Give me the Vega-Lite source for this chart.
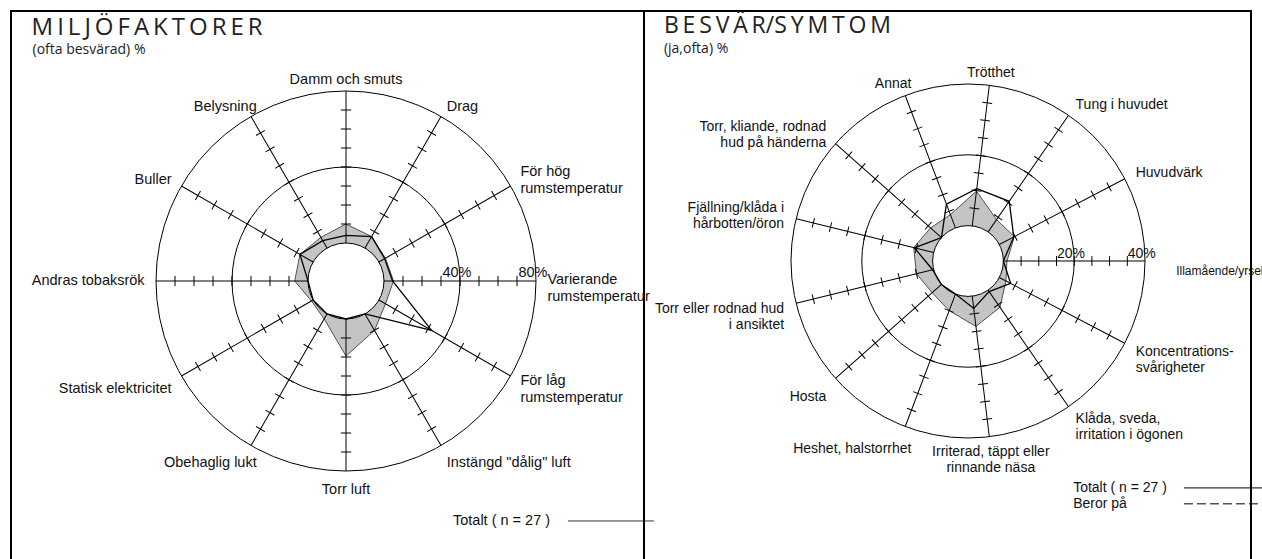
{
  "$schema": "https://vega.github.io/schema/vega-lite/v6.json",
  "background": "white",
  "padding": {"left": 10, "top": 10, "right": 0, "bottom": 0},
  "spacing": 0,
  "bounds": "flush",
  "config": {"view": {"stroke": "black", "strokeWidth": 2}, "text": {"font": "Liberation Sans", "color": "#111"}},
  "datasets": {
    "L": [
      {"cat": "Damm och smuts", "ref": 10, "tot": 4},
      {"cat": "Drag", "ref": 7, "tot": 7},
      {"cat": "För hög\nrumstemperatur", "ref": 4, "tot": 3.5},
      {"cat": "Varierande\nrumstemperatur", "ref": 5, "tot": 4.5},
      {"cat": "För låg\nrumstemperatur", "ref": 4, "tot": 32},
      {"cat": "Instängd \"dålig\" luft", "ref": 10, "tot": 0},
      {"cat": "Torr luft", "ref": 19.5, "tot": 0},
      {"cat": "Obehaglig lukt", "ref": 3, "tot": 0},
      {"cat": "Statisk elektricitet", "ref": 1, "tot": 0},
      {"cat": "Andras tobaksrök", "ref": 7, "tot": 0},
      {"cat": "Buller", "ref": 8, "tot": 8},
      {"cat": "Belysning", "ref": 6.5, "tot": 4.5}
    ],
    "R": [
      {"cat": "Trötthet", "ref": 9.9, "tot": 10.6},
      {"cat": "Tung i huvudet", "ref": 4.2, "tot": 10.5},
      {"cat": "Huvudvärk", "ref": 4.8, "tot": 4.6},
      {"cat": "Illamående/yrsel", "ref": 1, "tot": 0},
      {"cat": "Koncentrations-\nsvårigheter", "ref": 2.1, "tot": 3.6},
      {"cat": "Klåda, sveda,\nirritation i ögonen", "ref": 5.9, "tot": 0.5},
      {"cat": "Irriterad, täppt eller\nrinnande näsa", "ref": 8.6, "tot": 3.5},
      {"cat": "Heshet, halstorrhet", "ref": 5, "tot": 0},
      {"cat": "Hosta", "ref": 3.5, "tot": 0},
      {"cat": "Torr eller rodnad hud\ni ansiktet", "ref": 5, "tot": 0.3},
      {"cat": "Fjällning/klåda i\nhårbotten/öron", "ref": 5.8, "tot": 5.6},
      {"cat": "Torr, kliande, rodnad\nhud på händerna", "ref": 4.1, "tot": 0},
      {"cat": "Annat", "ref": 4, "tot": 7.2}
    ],
    "one": [{"k": 1}],
    "pctL": [{"p": "40%", "v": 40}, {"p": "80%", "v": 80}],
    "pctR": [{"p": "20%", "v": 20}, {"p": "40%", "v": 40}],
    "legTot": [{"t": "Totalt ( n = 27 )"}],
    "legBer": [{"t": "Beror på"}],
    "titleL": [{"t": "M\u2006I\u2006L\u2006J\u2006Ö\u2006F\u2006A\u2006K\u2006T\u2006O\u2006R\u2006E\u2006R", "s": "(ofta besvärad) %"}],
    "titleR": [{"t": "B\u2006E\u2006S\u2006V\u2006Ä\u2006R/S\u2006Y\u2006M\u2006T\u2006O\u2006M", "s": "(ja,ofta) %"}]
  },
  "hconcat": [
    {
      "width": 633,
      "height": 560,
      "layer": [
        {
          "data": {"name": "L"},
          "transform": [
            {"window": [{"op": "row_number", "as": "rn"}]},
            {"calculate": "(datum.rn - 1) * PI / 6", "as": "phi"},
            {"calculate": "(20 + datum.ref) * sin(datum.phi)", "as": "x"},
            {"calculate": "(20 + datum.ref) * cos(datum.phi)", "as": "y"}
          ],
          "mark": {"type": "line", "interpolate": "linear-closed", "fill": "#c4c4c4", "stroke": "#505050", "strokeWidth": 1},
          "encoding": {
            "x": {"field": "x", "type": "quantitative", "scale": {"domain": [-176.32, 156.84], "nice": false, "zero": false}, "axis": null},
            "y": {"field": "y", "type": "quantitative", "scale": {"domain": [-152.63, 142.105], "nice": false, "zero": false}, "axis": null},
            "order": {"field": "rn", "type": "quantitative"}
          }
        },
        {
          "data": {"name": "one"},
          "mark": {"type": "point", "shape": "circle", "size": 5776, "filled": true, "fill": "white", "stroke": "black", "strokeWidth": 1, "opacity": 1},
          "encoding": {
            "x": {"datum": 0, "type": "quantitative", "scale": {"domain": [-176.32, 156.84], "nice": false, "zero": false}, "axis": null},
            "y": {"datum": 0, "type": "quantitative", "scale": {"domain": [-152.63, 142.105], "nice": false, "zero": false}, "axis": null}
          }
        },
        {
          "data": {"name": "L"},
          "transform": [
            {"window": [{"op": "row_number", "as": "rn"}]},
            {"calculate": "(datum.rn - 1) * 30", "as": "deg"}
          ],
          "mark": {"type": "point", "shape": "M0,-0.2L0,-1M-0.027,-0.3L0.027,-0.3M-0.027,-0.4L0.027,-0.4M-0.027,-0.5L0.027,-0.5M-0.027,-0.6L0.027,-0.6M-0.027,-0.7L0.027,-0.7M-0.027,-0.8L0.027,-0.8M-0.027,-0.9L0.027,-0.9", "size": 144400, "filled": false, "stroke": "black", "strokeWidth": 1, "opacity": 1},
          "encoding": {
            "x": {"datum": 0, "type": "quantitative", "scale": {"domain": [-176.32, 156.84], "nice": false, "zero": false}, "axis": null},
            "y": {"datum": 0, "type": "quantitative", "scale": {"domain": [-152.63, 142.105], "nice": false, "zero": false}, "axis": null},
            "angle": {"field": "deg", "type": "quantitative", "scale": null}
          }
        },
        {
          "data": {"name": "one"},
          "mark": {"type": "point", "shape": "circle", "size": 51984, "filled": false, "stroke": "black", "strokeWidth": 1, "opacity": 1},
          "encoding": {
            "x": {"datum": 0, "type": "quantitative", "scale": {"domain": [-176.32, 156.84], "nice": false, "zero": false}, "axis": null},
            "y": {"datum": 0, "type": "quantitative", "scale": {"domain": [-152.63, 142.105], "nice": false, "zero": false}, "axis": null}
          }
        },
        {
          "data": {"name": "one"},
          "mark": {"type": "point", "shape": "circle", "size": 144400, "filled": false, "stroke": "black", "strokeWidth": 1, "opacity": 1},
          "encoding": {
            "x": {"datum": 0, "type": "quantitative", "scale": {"domain": [-176.32, 156.84], "nice": false, "zero": false}, "axis": null},
            "y": {"datum": 0, "type": "quantitative", "scale": {"domain": [-152.63, 142.105], "nice": false, "zero": false}, "axis": null}
          }
        },
        {
          "data": {"name": "L"},
          "transform": [
            {"window": [{"op": "row_number", "as": "rn"}]},
            {"calculate": "(datum.rn - 1) * PI / 6", "as": "phi"},
            {"calculate": "(20 + datum.tot) * sin(datum.phi)", "as": "x"},
            {"calculate": "(20 + datum.tot) * cos(datum.phi)", "as": "y"}
          ],
          "mark": {"type": "line", "interpolate": "linear-closed", "stroke": "black", "strokeWidth": 1.3},
          "encoding": {
            "x": {"field": "x", "type": "quantitative", "scale": {"domain": [-176.32, 156.84], "nice": false, "zero": false}, "axis": null},
            "y": {"field": "y", "type": "quantitative", "scale": {"domain": [-152.63, 142.105], "nice": false, "zero": false}, "axis": null},
            "order": {"field": "rn", "type": "quantitative"}
          }
        },
        {
          "data": {"name": "L"},
          "transform": [
            {"window": [{"op": "row_number", "as": "rn"}]},
            {"calculate": "(datum.rn - 1) * PI / 6", "as": "phi"},
            {"calculate": "106 * sin(datum.phi)", "as": "x"},
            {"calculate": "106 * cos(datum.phi) - ((cos(datum.phi) < -0.1 || (abs(cos(datum.phi)) < 0.1 && sin(datum.phi) > 0)) ? 4 : 0) + 4.34 * (length(split(datum.cat, '\\n')) - 1)", "as": "y"},
            {"filter": "sin(datum.phi) > 0.1"}
          ],
          "mark": {"type": "text", "align": "left", "baseline": "middle", "fontSize": 14.5, "lineBreak": "\n", "lineHeight": 16.5},
          "encoding": {
            "x": {"field": "x", "type": "quantitative", "scale": {"domain": [-176.32, 156.84], "nice": false, "zero": false}, "axis": null},
            "y": {"field": "y", "type": "quantitative", "scale": {"domain": [-152.63, 142.105], "nice": false, "zero": false}, "axis": null},
            "text": {"field": "cat"}
          }
        },
        {
          "data": {"name": "L"},
          "transform": [
            {"window": [{"op": "row_number", "as": "rn"}]},
            {"calculate": "(datum.rn - 1) * PI / 6", "as": "phi"},
            {"calculate": "106 * sin(datum.phi) + (abs(cos(datum.phi)) > 0.8 ? 6 : 0)", "as": "x"},
            {"calculate": "106 * cos(datum.phi) - ((cos(datum.phi) < -0.1) ? 4 : 0)", "as": "y"},
            {"filter": "sin(datum.phi) < -0.1"}
          ],
          "mark": {"type": "text", "align": "right", "baseline": "middle", "fontSize": 14.5, "lineBreak": "\n", "lineHeight": 16.5},
          "encoding": {
            "x": {"field": "x", "type": "quantitative", "scale": {"domain": [-176.32, 156.84], "nice": false, "zero": false}, "axis": null},
            "y": {"field": "y", "type": "quantitative", "scale": {"domain": [-152.63, 142.105], "nice": false, "zero": false}, "axis": null},
            "text": {"field": "cat"}
          }
        },
        {
          "data": {"name": "L"},
          "transform": [
            {"window": [{"op": "row_number", "as": "rn"}]},
            {"calculate": "(datum.rn - 1) * PI / 6", "as": "phi"},
            {"calculate": "106 * sin(datum.phi)", "as": "x"},
            {"calculate": "106 * cos(datum.phi) - ((cos(datum.phi) < -0.1) ? 4 : 0)", "as": "y"},
            {"filter": "abs(sin(datum.phi)) <= 0.1"}
          ],
          "mark": {"type": "text", "align": "center", "baseline": "middle", "fontSize": 14.5, "lineBreak": "\n", "lineHeight": 16.5},
          "encoding": {
            "x": {"field": "x", "type": "quantitative", "scale": {"domain": [-176.32, 156.84], "nice": false, "zero": false}, "axis": null},
            "y": {"field": "y", "type": "quantitative", "scale": {"domain": [-152.63, 142.105], "nice": false, "zero": false}, "axis": null},
            "text": {"field": "cat"}
          }
        },
        {
          "data": {"name": "pctL"},
          "transform": [{"calculate": "20 + datum.v - 1.6", "as": "x"}],
          "mark": {"type": "text", "align": "center", "baseline": "alphabetic", "fontSize": 14.5},
          "encoding": {
            "x": {"field": "x", "type": "quantitative", "scale": {"domain": [-176.32, 156.84], "nice": false, "zero": false}, "axis": null},
            "y": {"datum": 2.1, "type": "quantitative", "scale": {"domain": [-152.63, 142.105], "nice": false, "zero": false}, "axis": null},
            "text": {"field": "p"}
          }
        },
        {
          "data": {"name": "legTot"},
          "mark": {"type": "text", "align": "left", "baseline": "middle", "fontSize": 14.5},
          "encoding": {
            "x": {"datum": 56.3, "type": "quantitative", "scale": {"domain": [-176.32, 156.84], "nice": false, "zero": false}, "axis": null},
            "y": {"datum": -126.3, "type": "quantitative", "scale": {"domain": [-152.63, 142.105], "nice": false, "zero": false}, "axis": null},
            "text": {"field": "t"}
          }
        },
        {
          "data": {"name": "one"},
          "mark": {"type": "rule", "stroke": "#333", "strokeWidth": 1},
          "encoding": {
            "x": {"datum": 116.8, "type": "quantitative", "scale": {"domain": [-176.32, 156.84], "nice": false, "zero": false}, "axis": null},
            "x2": {"datum": 162.1},
            "y": {"datum": -126.3, "type": "quantitative", "scale": {"domain": [-152.63, 142.105], "nice": false, "zero": false}, "axis": null}
          }
        },
        {
          "data": {"name": "titleL"},
          "mark": {"type": "text", "align": "left", "baseline": "alphabetic", "fontSize": 24, "font": "Open Sans", "color": "#222"},
          "encoding": {
            "x": {"datum": -165.5, "type": "quantitative", "scale": {"domain": [-176.32, 156.84], "nice": false, "zero": false}, "axis": null},
            "y": {"datum": 129.5, "type": "quantitative", "scale": {"domain": [-152.63, 142.105], "nice": false, "zero": false}, "axis": null},
            "text": {"field": "t"}
          }
        },
        {
          "data": {"name": "titleL"},
          "mark": {"type": "text", "align": "left", "baseline": "alphabetic", "fontSize": 14, "font": "Open Sans", "color": "#222"},
          "encoding": {
            "x": {"datum": -165, "type": "quantitative", "scale": {"domain": [-176.32, 156.84], "nice": false, "zero": false}, "axis": null},
            "y": {"datum": 119.4, "type": "quantitative", "scale": {"domain": [-152.63, 142.105], "nice": false, "zero": false}, "axis": null},
            "text": {"field": "s"}
          }
        }
      ]
    },
    {
      "width": 607,
      "height": 560,
      "layer": [
        {
          "data": {"name": "R"},
          "transform": [
            {"window": [{"op": "row_number", "as": "rn"}]},
            {"calculate": "(datum.rn - 0.75) * 2 * PI / 13", "as": "phi"},
            {"calculate": "(10 + datum.ref) * sin(datum.phi)", "as": "x"},
            {"calculate": "(10 + datum.ref) * cos(datum.phi)", "as": "y"}
          ],
          "mark": {"type": "line", "interpolate": "linear-closed", "fill": "#c4c4c4", "stroke": "#505050", "strokeWidth": 1},
          "encoding": {
            "x": {"field": "x", "type": "quantitative", "scale": {"domain": [-91.525, 79.944], "nice": false, "zero": false}, "axis": null},
            "y": {"field": "y", "type": "quantitative", "scale": {"domain": [-87.571, 70.621], "nice": false, "zero": false}, "axis": null},
            "order": {"field": "rn", "type": "quantitative"}
          }
        },
        {
          "data": {"name": "one"},
          "mark": {"type": "point", "shape": "circle", "size": 5013, "filled": true, "fill": "white", "stroke": "black", "strokeWidth": 1, "opacity": 1},
          "encoding": {
            "x": {"datum": 0, "type": "quantitative", "scale": {"domain": [-91.525, 79.944], "nice": false, "zero": false}, "axis": null},
            "y": {"datum": 0, "type": "quantitative", "scale": {"domain": [-87.571, 70.621], "nice": false, "zero": false}, "axis": null}
          }
        },
        {
          "data": {"name": "R"},
          "transform": [
            {"window": [{"op": "row_number", "as": "rn"}]},
            {"calculate": "(datum.rn - 0.75) * 360 / 13", "as": "deg"}
          ],
          "mark": {"type": "point", "shape": "M0,-0.2L0,-1M-0.028,-0.3L0.028,-0.3M-0.028,-0.4L0.028,-0.4M-0.028,-0.5L0.028,-0.5M-0.028,-0.6L0.028,-0.6M-0.028,-0.7L0.028,-0.7M-0.028,-0.8L0.028,-0.8M-0.028,-0.9L0.028,-0.9", "size": 125316, "filled": false, "stroke": "black", "strokeWidth": 1, "opacity": 1},
          "encoding": {
            "x": {"datum": 0, "type": "quantitative", "scale": {"domain": [-91.525, 79.944], "nice": false, "zero": false}, "axis": null},
            "y": {"datum": 0, "type": "quantitative", "scale": {"domain": [-87.571, 70.621], "nice": false, "zero": false}, "axis": null},
            "angle": {"field": "deg", "type": "quantitative", "scale": null}
          }
        },
        {
          "data": {"name": "one"},
          "mark": {"type": "point", "shape": "circle", "size": 45114, "filled": false, "stroke": "black", "strokeWidth": 1, "opacity": 1},
          "encoding": {
            "x": {"datum": 0, "type": "quantitative", "scale": {"domain": [-91.525, 79.944], "nice": false, "zero": false}, "axis": null},
            "y": {"datum": 0, "type": "quantitative", "scale": {"domain": [-87.571, 70.621], "nice": false, "zero": false}, "axis": null}
          }
        },
        {
          "data": {"name": "one"},
          "mark": {"type": "point", "shape": "circle", "size": 125316, "filled": false, "stroke": "black", "strokeWidth": 1, "opacity": 1},
          "encoding": {
            "x": {"datum": 0, "type": "quantitative", "scale": {"domain": [-91.525, 79.944], "nice": false, "zero": false}, "axis": null},
            "y": {"datum": 0, "type": "quantitative", "scale": {"domain": [-87.571, 70.621], "nice": false, "zero": false}, "axis": null}
          }
        },
        {
          "data": {"name": "R"},
          "transform": [
            {"window": [{"op": "row_number", "as": "rn"}]},
            {"calculate": "(datum.rn - 0.75) * 2 * PI / 13", "as": "phi"},
            {"calculate": "(10 + datum.tot) * sin(datum.phi)", "as": "x"},
            {"calculate": "(10 + datum.tot) * cos(datum.phi)", "as": "y"}
          ],
          "mark": {"type": "line", "interpolate": "linear-closed", "stroke": "black", "strokeWidth": 1.3},
          "encoding": {
            "x": {"field": "x", "type": "quantitative", "scale": {"domain": [-91.525, 79.944], "nice": false, "zero": false}, "axis": null},
            "y": {"field": "y", "type": "quantitative", "scale": {"domain": [-87.571, 70.621], "nice": false, "zero": false}, "axis": null},
            "order": {"field": "rn", "type": "quantitative"}
          }
        },
        {
          "data": {"name": "R"},
          "transform": [
            {"window": [{"op": "row_number", "as": "rn"}]},
            {"calculate": "(datum.rn - 0.75) * 2 * PI / 13", "as": "phi"},
            {"calculate": "53.5 * sin(datum.phi)", "as": "x"},
            {"calculate": "53.5 * cos(datum.phi) - ((cos(datum.phi) < -0.1) ? 3 : 0) + 2.26 * (length(split(datum.cat, '\\n')) - 1)", "as": "y"},
            {"filter": "sin(datum.phi) > 0.2 && datum.cat !== 'Illamående/yrsel'"}
          ],
          "mark": {"type": "text", "align": "left", "baseline": "middle", "fontSize": 14, "lineBreak": "\n", "lineHeight": 16},
          "encoding": {
            "x": {"field": "x", "type": "quantitative", "scale": {"domain": [-91.525, 79.944], "nice": false, "zero": false}, "axis": null},
            "y": {"field": "y", "type": "quantitative", "scale": {"domain": [-87.571, 70.621], "nice": false, "zero": false}, "axis": null},
            "text": {"field": "cat"}
          }
        },
        {
          "data": {"name": "R"},
          "transform": [
            {"window": [{"op": "row_number", "as": "rn"}]},
            {"calculate": "(datum.rn - 0.75) * 2 * PI / 13", "as": "phi"},
            {"calculate": "53.5 * sin(datum.phi) + (abs(cos(datum.phi)) > 0.9 ? 3 : 0)", "as": "x"},
            {"calculate": "53.5 * cos(datum.phi) - ((cos(datum.phi) < -0.1) ? 3 : 0) + 2.26 * (length(split(datum.cat, '\\n')) - 1)", "as": "y"},
            {"filter": "sin(datum.phi) < -0.2"}
          ],
          "mark": {"type": "text", "align": "right", "baseline": "middle", "fontSize": 14, "lineBreak": "\n", "lineHeight": 16},
          "encoding": {
            "x": {"field": "x", "type": "quantitative", "scale": {"domain": [-91.525, 79.944], "nice": false, "zero": false}, "axis": null},
            "y": {"field": "y", "type": "quantitative", "scale": {"domain": [-87.571, 70.621], "nice": false, "zero": false}, "axis": null},
            "text": {"field": "cat"}
          }
        },
        {
          "data": {"name": "R"},
          "transform": [
            {"window": [{"op": "row_number", "as": "rn"}]},
            {"calculate": "(datum.rn - 0.75) * 2 * PI / 13", "as": "phi"},
            {"calculate": "53.5 * sin(datum.phi)", "as": "x"},
            {"calculate": "53.5 * cos(datum.phi) - ((cos(datum.phi) < -0.1) ? 3 : 0) + 2.26 * (length(split(datum.cat, '\\n')) - 1)", "as": "y"},
            {"filter": "abs(sin(datum.phi)) <= 0.2"}
          ],
          "mark": {"type": "text", "align": "center", "baseline": "middle", "fontSize": 14, "lineBreak": "\n", "lineHeight": 16},
          "encoding": {
            "x": {"field": "x", "type": "quantitative", "scale": {"domain": [-91.525, 79.944], "nice": false, "zero": false}, "axis": null},
            "y": {"field": "y", "type": "quantitative", "scale": {"domain": [-87.571, 70.621], "nice": false, "zero": false}, "axis": null},
            "text": {"field": "cat"}
          }
        },
        {
          "data": {"name": "R"},
          "transform": [
            {"window": [{"op": "row_number", "as": "rn"}]},
            {"calculate": "(datum.rn - 0.75) * 2 * PI / 13", "as": "phi"},
            {"calculate": "58.8 * sin(datum.phi)", "as": "x"},
            {"calculate": "58.8 * cos(datum.phi) - 2.8", "as": "y"},
            {"filter": "datum.cat === 'Illamående/yrsel'"}
          ],
          "mark": {"type": "text", "align": "left", "baseline": "middle", "fontSize": 12},
          "encoding": {
            "x": {"field": "x", "type": "quantitative", "scale": {"domain": [-91.525, 79.944], "nice": false, "zero": false}, "axis": null},
            "y": {"field": "y", "type": "quantitative", "scale": {"domain": [-87.571, 70.621], "nice": false, "zero": false}, "axis": null},
            "text": {"field": "cat"}
          }
        },
        {
          "data": {"name": "pctR"},
          "transform": [{"calculate": "10 + datum.v - 0.9", "as": "x"}],
          "mark": {"type": "text", "align": "center", "baseline": "alphabetic", "fontSize": 14},
          "encoding": {
            "x": {"field": "x", "type": "quantitative", "scale": {"domain": [-91.525, 79.944], "nice": false, "zero": false}, "axis": null},
            "y": {"datum": 0.9, "type": "quantitative", "scale": {"domain": [-87.571, 70.621], "nice": false, "zero": false}, "axis": null},
            "text": {"field": "p"}
          }
        },
        {
          "data": {"name": "legTot"},
          "mark": {"type": "text", "align": "left", "baseline": "middle", "fontSize": 14},
          "encoding": {
            "x": {"datum": 29.7, "type": "quantitative", "scale": {"domain": [-91.525, 79.944], "nice": false, "zero": false}, "axis": null},
            "y": {"datum": -64.1, "type": "quantitative", "scale": {"domain": [-87.571, 70.621], "nice": false, "zero": false}, "axis": null},
            "text": {"field": "t"}
          }
        },
        {
          "data": {"name": "legBer"},
          "mark": {"type": "text", "align": "left", "baseline": "middle", "fontSize": 14},
          "encoding": {
            "x": {"datum": 29.7, "type": "quantitative", "scale": {"domain": [-91.525, 79.944], "nice": false, "zero": false}, "axis": null},
            "y": {"datum": -68.6, "type": "quantitative", "scale": {"domain": [-87.571, 70.621], "nice": false, "zero": false}, "axis": null},
            "text": {"field": "t"}
          }
        },
        {
          "data": {"name": "one"},
          "mark": {"type": "rule", "stroke": "black", "strokeWidth": 1},
          "encoding": {
            "x": {"datum": 61, "type": "quantitative", "scale": {"domain": [-91.525, 79.944], "nice": false, "zero": false}, "axis": null},
            "x2": {"datum": 83.3},
            "y": {"datum": -64.1, "type": "quantitative", "scale": {"domain": [-87.571, 70.621], "nice": false, "zero": false}, "axis": null}
          }
        },
        {
          "data": {"name": "one"},
          "mark": {"type": "rule", "stroke": "black", "strokeWidth": 1, "strokeDash": [9, 4]},
          "encoding": {
            "x": {"datum": 61, "type": "quantitative", "scale": {"domain": [-91.525, 79.944], "nice": false, "zero": false}, "axis": null},
            "x2": {"datum": 83.3},
            "y": {"datum": -68.6, "type": "quantitative", "scale": {"domain": [-87.571, 70.621], "nice": false, "zero": false}, "axis": null}
          }
        },
        {
          "data": {"name": "titleR"},
          "mark": {"type": "text", "align": "left", "baseline": "alphabetic", "fontSize": 23, "font": "Open Sans", "color": "#222"},
          "encoding": {
            "x": {"datum": -85.9, "type": "quantitative", "scale": {"domain": [-91.525, 79.944], "nice": false, "zero": false}, "axis": null},
            "y": {"datum": 64.5, "type": "quantitative", "scale": {"domain": [-87.571, 70.621], "nice": false, "zero": false}, "axis": null},
            "text": {"field": "t"}
          }
        },
        {
          "data": {"name": "titleR"},
          "mark": {"type": "text", "align": "left", "baseline": "alphabetic", "fontSize": 14, "font": "Open Sans", "color": "#222"},
          "encoding": {
            "x": {"datum": -85.9, "type": "quantitative", "scale": {"domain": [-91.525, 79.944], "nice": false, "zero": false}, "axis": null},
            "y": {"datum": 58.8, "type": "quantitative", "scale": {"domain": [-87.571, 70.621], "nice": false, "zero": false}, "axis": null},
            "text": {"field": "s"}
          }
        }
      ]
    }
  ]
}
